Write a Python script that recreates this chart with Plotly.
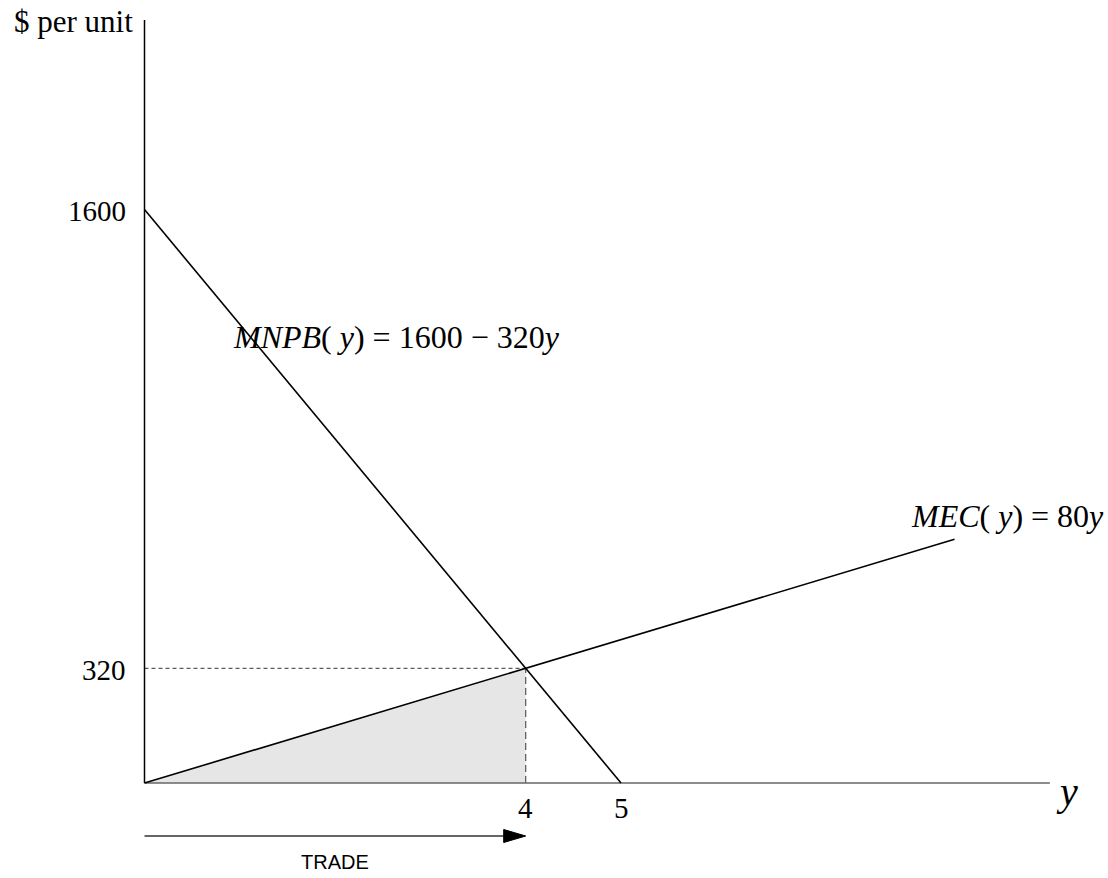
import plotly.graph_objects as go

# Model values
y_zero_mnpb = 5          # MNPB hits zero at y = 5
intercept = 1600         # MNPB(0)
slope_mec = 80
y_star = 4               # MNPB = MEC
p_star = 320
mec_end = 8.5
axis_x_end = 9.5

mnpb_x = [0, y_zero_mnpb]
mnpb_y = [intercept, 0]
mec_x = [0, mec_end]
mec_y = [0, slope_mec * mec_end]

y_ticks = [1600, 320]
x_ticks = [4, 5]

# pixel scale of the drawing
kx = 95.3       # px per unit of y
ky = 0.3584     # px per $
W, H = 1108, 878
ox, oy = 144.5, 783
x_range = [-ox / kx, (W - ox) / kx]
y_range = [-(H - oy) / ky, oy / ky]


def px_x(px):
    return px / kx


def px_y(px):
    return px / ky


serif = "Liberation Serif, Times New Roman, serif"
sans = "Liberation Sans, Arial, sans-serif"

fig = go.Figure()

# shaded area under MEC up to y*
fig.add_trace(go.Scatter(
    x=[0, y_star, y_star, 0], y=[0, slope_mec * y_star, 0, 0],
    fill="toself", fillcolor="#e6e6e6", line=dict(width=0),
    mode="lines", hoverinfo="skip"))

# dashed guides
fig.add_trace(go.Scatter(x=[0, y_star], y=[p_star, p_star], mode="lines",
                         line=dict(color="#333333", width=1, dash="4px,3px")))
fig.add_trace(go.Scatter(x=[y_star, y_star], y=[0, p_star], mode="lines",
                         line=dict(color="#555555", width=1.2, dash="7px,4px")))

# axes
fig.add_trace(go.Scatter(x=[0, axis_x_end], y=[0, 0], mode="lines",
                         line=dict(color="#666666", width=1.5)))
fig.add_trace(go.Scatter(x=[0, 0], y=[0, px_y(763)], mode="lines",
                         line=dict(color="black", width=1.5)))

# curves
fig.add_trace(go.Scatter(x=mnpb_x, y=mnpb_y, mode="lines",
                         line=dict(color="black", width=1.6)))
fig.add_trace(go.Scatter(x=mec_x, y=mec_y, mode="lines",
                         line=dict(color="black", width=1.6)))

# TRADE arrow shaft
arrow_y = px_y(-53)
fig.add_trace(go.Scatter(x=[0, y_star - px_x(10)], y=[arrow_y, arrow_y], mode="lines",
                         line=dict(color="#333333", width=1.3)))

shapes = [dict(type="path", xref="x", yref="y", xsizemode="pixel", ysizemode="pixel",
               xanchor=y_star, yanchor=arrow_y,
               path="M -22 6.5 L 0 0 L -22 -6.5 Z",
               fillcolor="black", line=dict(color="black", width=1))]

ann = []
# y tick labels
for v in y_ticks:
    ann.append(dict(x=px_x(-17), y=v - px_y(1.5), text=str(v), xanchor="right",
                    yanchor="middle", showarrow=False,
                    font=dict(family=serif, size=29, color="black")))
# x tick labels
for v in x_ticks:
    ann.append(dict(x=v, y=px_y(-25), text=str(v), xanchor="center", yanchor="middle",
                    showarrow=False, font=dict(family=serif, size=29, color="black")))

ann.append(dict(x=px_x(-10), y=px_y(762), text="$ per unit", xanchor="right",
                yanchor="middle", showarrow=False,
                font=dict(family=serif, size=31, color="black")))
ann.append(dict(x=px_x(922), y=px_y(-8), text="<i>y</i>", xanchor="center",
                yanchor="middle", showarrow=False,
                font=dict(family=serif, size=40, color="black")))

ann.append(dict(x=px_x(86), y=px_y(446), xanchor="left", yanchor="middle", showarrow=False,
                text="<i>MNPB</i>( <i>y</i>) = 1600 \u2212 320<i>y</i>",
                font=dict(family=serif, size=32, color="black")))
ann.append(dict(x=px_x(764), y=px_y(267), xanchor="left", yanchor="middle", showarrow=False,
                text="<i>MEC</i>( <i>y</i>) = 80<i>y</i>",
                font=dict(family=serif, size=32, color="black")))

ann.append(dict(x=y_star / 2, y=px_y(-79), text="TRADE", xanchor="center",
                yanchor="middle", showarrow=False,
                font=dict(family=sans, size=20, color="black")))

fig.update_layout(
    width=W, height=H, margin=dict(l=0, r=0, t=0, b=0),
    paper_bgcolor="white", plot_bgcolor="white", showlegend=False,
    xaxis=dict(range=x_range, visible=False, fixedrange=True),
    yaxis=dict(range=y_range, visible=False, fixedrange=True),
    annotations=ann, shapes=shapes,
)

fig.write_html("out.html")
